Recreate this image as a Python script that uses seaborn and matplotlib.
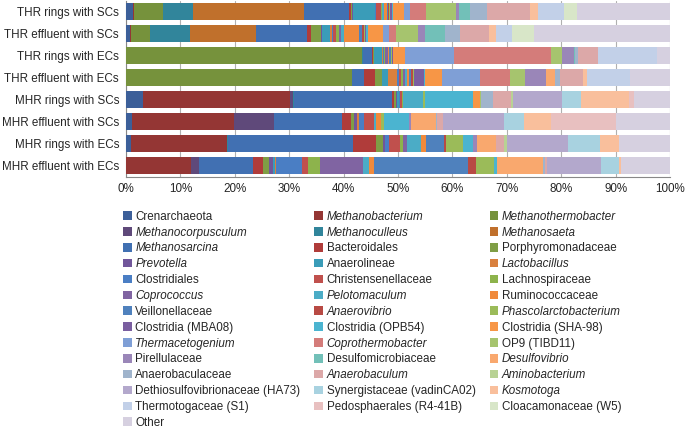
import numpy as np
import pandas as pd
import matplotlib
matplotlib.use("Agg")
import matplotlib.pyplot as plt
import seaborn as sns
from matplotlib.patches import Patch

sns.set_style("white")
plt.rcParams['font.family'] = ['Liberation Sans', 'DejaVu Sans']

## Samples (top to bottom)
samples = ["THR rings with SCs", "THR effluent with SCs", "THR rings with ECs",
           "THR effluent with ECs", "MHR rings with SCs", "MHR effluent with SCs",
           "MHR rings with ECs", "MHR effluent with ECs"]

## Taxa in stacking / legend order
taxa = ["Crenarchaeota", "Methanobacterium", "Methanothermobacter",
        "Methanocorpusculum", "Methanoculleus", "Methanosaeta",
        "Methanosarcina", "Bacteroidales", "Porphyromonadaceae",
        "Prevotella", "Anaerolineae", "Lactobacillus",
        "Clostridiales", "Christensenellaceae", "Lachnospiraceae",
        "Coprococcus", "Pelotomaculum", "Ruminococcaceae",
        "Veillonellaceae", "Anaerovibrio", "Phascolarctobacterium",
        "Clostridia (MBA08)", "Clostridia (OPB54)", "Clostridia (SHA-98)",
        "Thermacetogenium", "Coprothermobacter", "OP9 (TIBD11)",
        "Pirellulaceae", "Desulfomicrobiaceae", "Desulfovibrio",
        "Anaerobaculaceae", "Anaerobaculum", "Aminobacterium",
        "Dethiosulfovibrionaceae (HA73)", "Synergistaceae (vadinCA02)", "Kosmotoga",
        "Thermotogaceae (S1)", "Pedosphaerales (R4-41B)", "Cloacamonaceae (W5)",
        "Other"]

italic = {"Methanobacterium", "Methanothermobacter", "Methanocorpusculum",
          "Methanoculleus", "Methanosaeta", "Methanosarcina", "Prevotella",
          "Lactobacillus", "Coprococcus", "Pelotomaculum", "Anaerovibrio",
          "Phascolarctobacterium", "Thermacetogenium", "Coprothermobacter",
          "Desulfovibrio", "Anaerobaculum", "Aminobacterium", "Kosmotoga"}

colors = ["#3c5f99", "#943634", "#76923c",
          "#5f497a", "#31859b", "#c0702c",
          "#4170b2", "#b03c3a", "#7f9e45",
          "#71569a", "#3a9cb8", "#d9803e",
          "#4a7ec4", "#c0504d", "#8db34c",
          "#8064a2", "#4bacc6", "#f08a3c",
          "#4f81bd", "#b84a44", "#9bbb59",
          "#7a5ea0", "#4bb4d0", "#f79646",
          "#7f9fd6", "#d47c7a", "#a6c46e",
          "#9a86b8", "#72c0b8", "#f9a86e",
          "#a0b4cc", "#dca8a8", "#b8d294",
          "#b3a8cc", "#a8d2e0", "#f9bf9c",
          "#c2d0e8", "#e8c0c0", "#d8e6c8",
          "#d6d0e0"]

## Relative abundance (%) per sample, one value per taxon
thr_rings_sc = [1.3, 0.2, 5.3, 0, 5.5, 20.4, 8.3, 0.3, 0.3, 0.1,
                4.0, 0.1, 0.2, 0.8, 0.2, 0.1, 0.3, 0.5, 0.2, 0.2,
                0.2, 0.4, 0.2, 2.0, 1.1, 2.9, 5.5, 0.6, 2.1, 0,
                3.1, 7.9, 0, 0, 0, 1.4, 4.8, 0, 2.4, 17.1]
thr_eff_sc = [0.7, 0.3, 3.5, 0, 7.2, 12.2, 9.3, 0.8, 1.8, 0.3,
              1.4, 0.3, 0.2, 0.6, 0.6, 0.3, 0.5, 2.9, 0.5, 0.3,
              0.2, 0.3, 0.2, 2.8, 1.2, 1.2, 4.1, 1.3, 3.6, 0,
              2.8, 5.4, 0, 0, 0, 1.3, 2.8, 0, 4.1, 25.0]
thr_rings_ec = [0, 0, 43.4, 0, 0.2, 0, 1.7, 0.1, 0.1, 0,
                1.6, 0.2, 0.1, 0.1, 0.1, 0.5, 0.1, 0.2, 0.3, 0.1,
                0.1, 0.1, 0.1, 2.2, 9.0, 17.9, 2.0, 2.1, 0.2, 0,
                0.5, 3.8, 0, 0, 0, 0, 10.9, 0, 0, 2.3]
thr_eff_ec = [0, 0, 41.5, 0, 0, 0, 2.2, 2.0, 1.4, 0,
              1.0, 1.8, 0.3, 0.4, 0.4, 0.3, 0.3, 0.5, 0.3, 0.3,
              0.2, 1.8, 0.2, 3.1, 7.0, 5.5, 2.8, 3.9, 0, 1.6,
              1.0, 4.3, 0, 0, 0, 0.6, 8.0, 0, 0, 7.3]
mhr_rings_sc = [3.2, 27.0, 0, 0.5, 0.2, 0, 18.0, 0.4, 0.3, 0.3,
                0.2, 0, 0.3, 0.3, 0.2, 0, 3.7, 0, 0, 0,
                0.3, 0, 8.9, 1.2, 0, 0, 0.2, 0, 0, 0,
                2.2, 3.4, 0.3, 9.0, 3.5, 8.9, 0, 0.9, 0, 6.6]
mhr_eff_sc = [1.2, 18.6, 0, 7.4, 0, 0, 12.6, 1.5, 0.7, 0.4,
              0, 0.4, 0.9, 1.8, 0, 0, 0.4, 0.9, 0, 0,
              0.6, 0, 4.6, 0, 0, 0, 0, 0.4, 0, 4.5,
              0.3, 1.1, 0, 11.2, 3.6, 5.0, 0, 12.0, 0, 9.9]
mhr_rings_ec = [1.0, 17.5, 0, 0, 0.3, 0, 22.9, 4.3, 1.2, 0.5,
                0, 0, 0.7, 2.0, 0.6, 0.7, 2.6, 0.8, 3.4, 0.3,
                3.1, 0, 1.8, 0, 0, 0, 0, 0.8, 0, 3.5,
                0, 1.5, 0.6, 11.2, 5.8, 3.6, 0, 0, 0, 9.3]
mhr_eff_ec = [0, 12.0, 0, 1.5, 0, 0, 9.8, 1.8, 1.1, 0.9,
              0.3, 0.2, 4.8, 1.1, 2.1, 7.9, 1.2, 0.9, 17.3, 1.4,
              3.3, 0, 0.6, 0, 0, 0, 0, 0, 0, 8.4,
              0.4, 0.4, 0, 9.9, 3.4, 0.3, 0, 0, 0, 9.0]

df = pd.DataFrame([thr_rings_sc, thr_eff_sc, thr_rings_ec, thr_eff_ec,
                   mhr_rings_sc, mhr_eff_sc, mhr_rings_ec, mhr_eff_ec],
                  index=samples, columns=taxa)
cum = df.cumsum(axis=1)

fig = plt.figure(figsize=(6.85, 4.32), dpi=100)
ax = fig.add_axes([0.1839, 0.5914, 0.7942, 0.4074])

## draw stacked bars: longest cumulative first, then overlay
for i in range(len(taxa) - 1, -1, -1):
    sns.barplot(x=cum[taxa[i]].values, y=samples, color=colors[i], orient="h",
                width=0.73, linewidth=0, saturation=1, ax=ax, zorder=3)

ax.set_xlim(0, 100)
ax.set_xticks(np.arange(0, 101, 10))
ax.set_xticklabels([f"{v}%" for v in range(0, 101, 10)], fontsize=8.4)
ax.tick_params(axis='y', labelsize=8.4, length=0, pad=5)
ax.tick_params(axis='x', length=3, color="#888888", direction="out", pad=1.5)
ax.set_xlabel("")
ax.set_ylabel("")
ax.xaxis.grid(True, color="#b0b0b0", linewidth=0.8, zorder=0)
ax.set_axisbelow(True)
for s in ["top", "right"]:
    ax.spines[s].set_visible(False)
ax.spines["left"].set_color("#888888")
ax.spines["bottom"].set_color("#888888")
# small tick marks between categories on the left axis
ax.set_yticks(np.arange(-0.5, len(samples), 1), minor=True)
ax.tick_params(axis='y', which='minor', length=4, color="#888888", direction="out")

## legend in row-wise order over 3 columns
order = [i for c in range(3) for i in range(c, len(taxa), 3)]
handles = [Patch(facecolor=colors[i], edgecolor='none', label=taxa[i]) for i in order]
leg = fig.legend(handles=handles, ncol=3, loc="upper left",
                 bbox_to_anchor=(0.173, 0.523), frameon=False, fontsize=8.4,
                 handlelength=0.75, handleheight=0.75, handletextpad=0.3,
                 columnspacing=1.2, labelspacing=0.33, borderaxespad=0)
for t in leg.get_texts():
    if t.get_text() in italic:
        t.set_fontstyle('italic')

fig.savefig("out.png", dpi=100)
